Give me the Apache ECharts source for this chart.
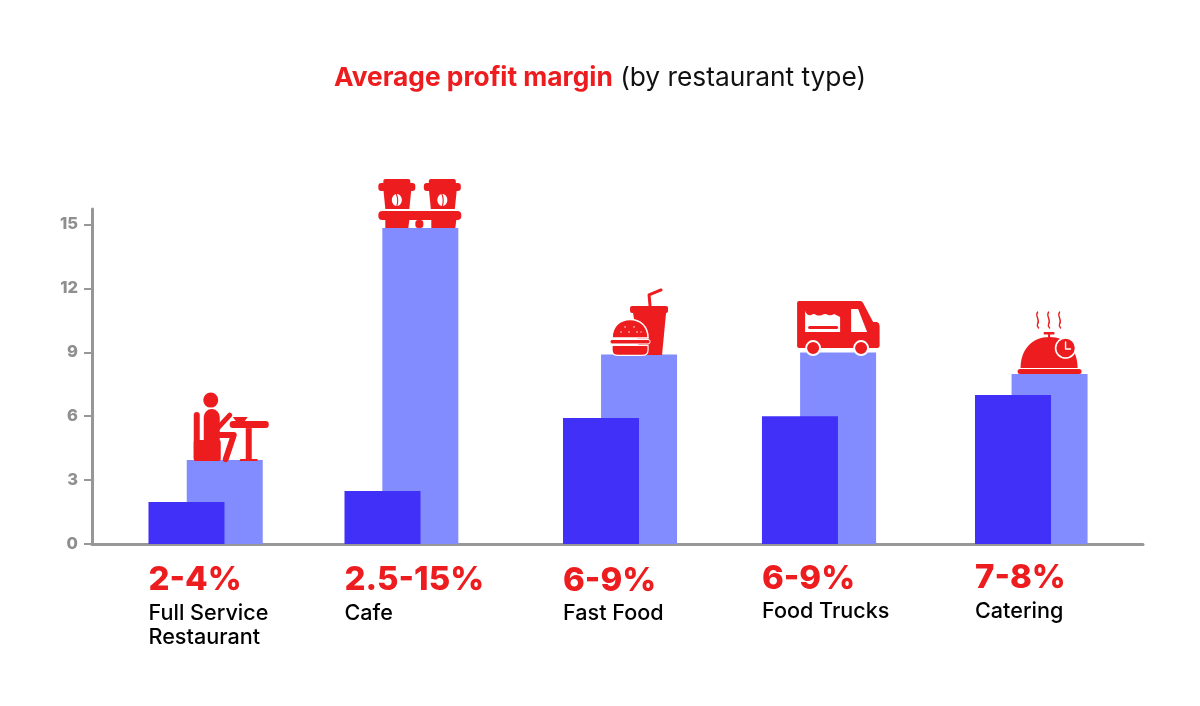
<!DOCTYPE html>
<html><head><meta charset="utf-8">
<style>html,body{margin:0;padding:0;background:#fff}#c{width:1200px;height:706px}</style>
<script src="https://cdn.jsdelivr.net/npm/echarts@6/dist/echarts.min.js"></script>
</head><body><div id="c"></div>
<script>
// data
const categories = ['Full Service\nRestaurant', 'Cafe', 'Fast Food', 'Food Trucks', 'Catering'];
const rangeLabels = ['2-4%', '2.5-15%', '6-9%', '6-9%', '7-8%'];
const lowValues = [1.97, 2.49, 5.92, 6, 7];
const highValues = [3.94, 14.84, 8.9, 8.99, 7.98];
const yTicks = [0, 3, 6, 9, 12, 15];
const titleLead = 'Average profit margin';
const titleRest = ' (by restaurant type)';
// layout (not data): horizontal slots on a hidden 0-100 axis
const lowPos = [8.99, 27.64, 48.43, 67.36, 87.63];
const highPos = [12.63, 31.24, 52.05, 70.99, 91.11];
const BAR = 76;
const rangeDy = [0, 0, 1, -1, -2];
const nameDy = [0, 0, 0, -2, -2];
const FONT = 'Inter, "Liberation Sans", sans-serif';
const RED = '#EC1C1F', WHITE = '#fff', GREY = '#979797';

const rr = (x, y, width, height, r, fill) => ({type:'rect', shape:{x, y, width, height, r}, style:{fill: fill || RED}});
const poly = (points, fill) => ({type:'polygon', shape:{points}, style:{fill: fill || RED}});
const circ = (cx, cy, r, fill, stroke, lw) => ({type:'circle', shape:{cx, cy, r}, style:{fill: fill || RED, stroke, lineWidth: lw || 0}});
const stroke = (pathData, lw, col) => ({type:'path', shape:{pathData}, style:{fill:'none', stroke: col || RED, lineWidth: lw, lineCap:'round', lineJoin:'round'}});
const fillP = (pathData, fill, st, lw) => ({type:'path', shape:{pathData}, style:{fill: fill || RED, stroke: st, lineWidth: lw || 0}});
const bean = (cx, cy) => [
  {type:'ellipse', shape:{cx, cy, rx:5, ry:6}, style:{fill:WHITE}},
  stroke(`M${cx-0.5} ${cy-6} Q${cx+2} ${cy} ${cx} ${cy+6}`, 1.1)
];

const icons = [
  { ox:45, oy:75, kids:[
    circ(31,15,7.5),
    rr(14,27,6,49,3),
    rr(14,55,27,21,2),
    rr(24,24,16,52,[8,8,1,1]),
    stroke('M38 43 L50 30',5),
    stroke('M38 50 L54 50 L46 74',6),
    rr(50,36,39,7,3),
    rr(66,43,6,32,0),
    rr(60,74,18,2,1),
    poly([[53,32],[68,32],[65,36],[56,36]])
  ]},
  { ox:61, oy:63, kids:[
    rr(24,14,27,6,2), rr(19,18,37,8,3),
    poly([[24,24],[52,24],[50,44],[26,44]]),
    rr(69.5,14,27,6,2), rr(64.5,18,37,8,3),
    poly([[69.5,24],[97.5,24],[95.5,44],[71.5,44]]),
    ...bean(37.5,35), ...bean(83,35),
    rr(19,46,83,9,4),
    poly([[26,55],[50,55],[49,63],[26,63]]),
    poly([[72,55],[97,55],[96,63],[72,63]]),
    rr(56,55,8,8,3)
  ]},
  { ox:49, oy:74.5, kids:[
    stroke('M60 26 L59 15 L71 10',3),
    rr(40,26,38,7,2),
    poly([[43,33],[76,33],[72,75],[50,75]]),
    fillP('M22 58 C22 46 30 39.5 40 39.5 C50 39.5 58 46 58 58 Z', RED, WHITE, 1.5),
    {type:'rect', shape:{x:20,y:59.5,width:40,height:4.5,r:2}, style:{fill:RED, stroke:WHITE, lineWidth:1}},
    fillP('M22 65.5 L58 65.5 L58 70 Q58 75.5 52 75.5 L28 75.5 Q22 75.5 22 70 Z', RED, WHITE, 1.2),
    circ(31,52,.7,WHITE), circ(39,52,.7,WHITE), circ(47,52,.7,WHITE),
    circ(35,47,.7,WHITE), circ(44,47,.7,WHITE), circ(51,52,.6,WHITE)
  ]},
  { ox:248, oy:72.5, kids:[
    fillP('M207 23 Q207 21 209 21 L270 21 Q272 21 273 23 L283 42 L287 42 Q289.5 43 289.5 46 L289.5 66 Q289.5 68 287 68 L209 68 Q207 68 207 66 Z'),
    poly([[261,29],[268,29],[277,52],[261,52]],WHITE),
    fillP('M215 31 Q217 36 221 35 Q224 33 226 35 Q229 36 232 35 Q235 33 238 35 Q241 36 244 34 Q246 35 250 37 L250 52 L215 52 Z',WHITE),
    rr(218,46,30,3,1.5),
    circ(223,68,7,RED,WHITE,2),
    circ(271,68,7,RED,WHITE,2)
  ]},
  { ox:50, oy:74, kids:[
    stroke('M38 12 C35 16 41 20 38 24 Q37 26 39 28',1.4),
    stroke('M49 12 C46 16 52 20 49 24 Q48 26 50 28',1.4),
    stroke('M60 12 C57 16 63 20 60 24 Q59 26 61 28',1.4),
    rr(44,32,11,2.5,1), rr(48.5,34,2,4,0),
    fillP('M21 68 C21 50 32 37 50 37 C67 37 78 50 78 68 Z'),
    circ(66,48,10,RED,WHITE,1.6),
    stroke('M66 42 L66 49 L71 49',1.4,WHITE),
    rr(18,69,64,5,2.5)
  ]}
];

function renderItem(params, api) {
  const i = params.dataIndex;
  const top = api.coord([highPos[i], highValues[i]]);
  const base = api.coord([lowPos[i], 0]);
  const left = base[0] - BAR / 2;
  const ic = icons[i];
  return {type:'group', children:[
    {type:'group', x: top[0] - ic.ox, y: top[1] - ic.oy, children: ic.kids},
    {type:'text', x: left, y: base[1] + 36 + rangeDy[i], style:{text: rangeLabels[i], fill:RED, font:`800 33px ${FONT}`, textVerticalAlign:'middle', textAlign:'left'}},
    {type:'text', x: left, y: base[1] + 57 + nameDy[i], style:{text: categories[i], fill:'#000', font:`500 21.6px ${FONT}`, lineHeight:24, textVerticalAlign:'top', textAlign:'left'}}
  ]};
}

const chart = echarts.init(document.getElementById('c'), null, {renderer:'canvas'});
chart.setOption({
  animation:false,
  backgroundColor:'#fff',
  title:{
    text:`{a|${titleLead}}{b|${titleRest}}`,
    left:'center', top:60,
    textStyle:{rich:{
      a:{fontFamily:FONT,fontWeight:700,fontSize:26.3,color:RED},
      b:{fontFamily:FONT,fontWeight:400,fontSize:26.3,color:'#111'}
    }}
  },
  grid:{left:92, right:57, top:209, bottom:162},
  xAxis:{type:'value', min:0, max:100, splitLine:{show:false}, axisLabel:{show:false}, axisTick:{show:false},
    axisLine:{show:true, onZero:false, lineStyle:{color:GREY, width:3}}},
  yAxis:{type:'value', min:0, max:15.73, interval:3, splitLine:{show:false},
    axisLine:{show:true, lineStyle:{color:GREY, width:3}},
    axisTick:{show:true, length:8, customValues:yTicks, lineStyle:{color:GREY, width:2}},
    axisLabel:{customValues:yTicks, color:'#8f8f8f', fontFamily:FONT, fontWeight:800, fontSize:16.5, margin:14, padding:[2,0,0,0]}
  },
  series:[
    {type:'bar', name:'High', barWidth:BAR, barGap:'-100%', z:2, itemStyle:{color:'#838CFF'},
      data:highValues.map((v,i)=>[highPos[i], v])},
    {type:'bar', name:'Low', barWidth:BAR, barGap:'-100%', z:3, itemStyle:{color:'#4030F8'},
      data:lowValues.map((v,i)=>[lowPos[i], v])},
    {type:'custom', name:'Annotations', z:5, renderItem, silent:true,
      data:highValues.map((v,i)=>[highPos[i], v])}
  ]
});
</script></body></html>
